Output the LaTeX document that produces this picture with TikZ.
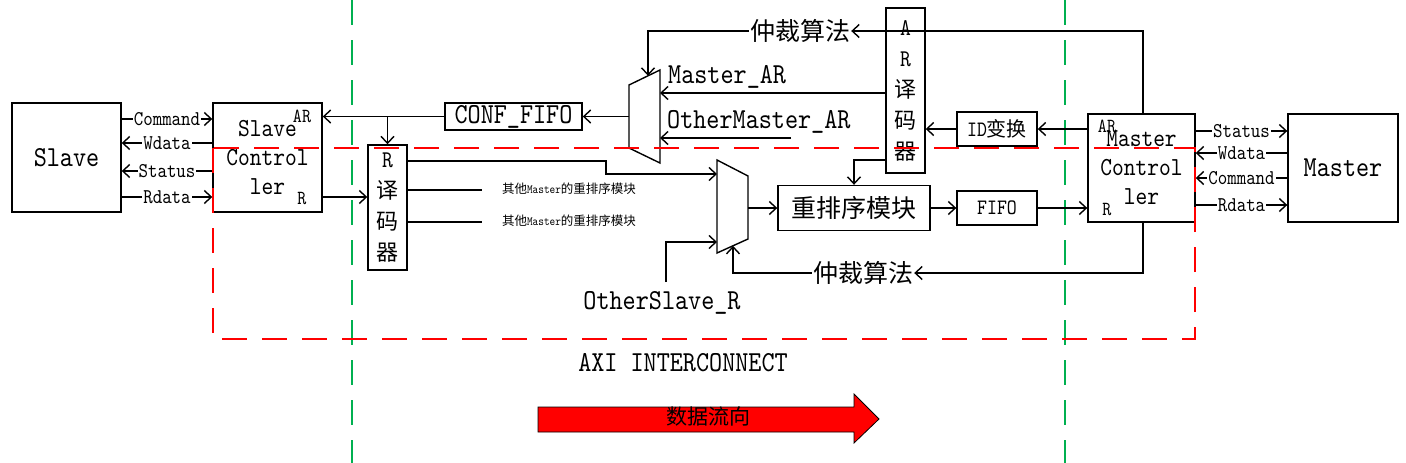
\documentclass[tikz,border=0pt]{standalone}
\usepackage{fontspec}
\newfontfamily\cjk{Noto Sans CJK SC}
\newfontfamily\mn{lmmono10-regular.otf}[FakeStretch=0.86]
\usetikzlibrary{arrows.meta}
\newcommand\fs[2]{\fontsize{#1}{#2}\selectfont}
\definecolor{gline}{RGB}{0,176,80}
\begin{document}
\begin{tikzpicture}[x=1pt,y=-1pt,
  ln/.style={line width=1.4pt},
  ar/.style={ln,-{Straight Barb[length=7pt,width=13pt,line width=1.4pt]}},
  box/.style={draw,line width=1.4pt,fill=white,inner sep=0pt,align=center},
  lbl/.style={fill=white,inner sep=1pt,font=\fs{21}{24}\mn},
  txt/.style={inner sep=0pt,align=center},
  reddash/.style={draw=red,line width=1.5pt,dash pattern=on 25pt off 15pt},
  greendash/.style={draw=gline,line width=1.5pt,dash pattern=on 25pt off 15pt}
]
\useasboundingbox (0,0) rectangle (1406,463);
% green boundaries
\coordinate (g1t) at (352,0); \coordinate (g1b) at (352,463);
\coordinate (g2t) at (1065,0); \coordinate (g2b) at (1065,463);
\draw[greendash] (g1t) -- (g1b);
\draw[greendash] (g2t) -- (g2b);

% levels
\coordinate (yC) at (0,119);
\coordinate (yW) at (0,143);
\coordinate (yS) at (0,171);
\coordinate (yRd) at (0,197);
\coordinate (zS) at (0,131);
\coordinate (zW) at (0,153);
\coordinate (zC) at (0,178);
\coordinate (zR) at (0,205);
\coordinate (xMC) at (1143,0);

% boxes
\node[box,minimum width=109pt,minimum height=109pt,font=\fs{29}{32}\mn] (slave) at (66.5,157.5) {Slave};
\node[box,minimum width=109pt,minimum height=109pt,font=\fs{26}{29}\mn] (slavec) at (267.5,157.5) {Slave\\Control\\ler};
\node[txt,font=\fs{20}{22}\mn] (slavecAR) at (302,116) {AR};
\node[txt,font=\fs{20}{22}\mn] (slavecR) at (302,198) {R};

\node[box,minimum width=137pt,minimum height=27pt,font=\fs{29}{32}\mn] (conf) at (513.5,116.5) {CONF\_FIFO};
\node[box,minimum width=39pt,minimum height=125pt,font=\fs{22}{31}] (rdec) at (387.5,207.5) {{\fs{24}{31}\mn R}\\{\cjk 译}\\{\cjk 码}\\{\cjk 器}};
\node[box,minimum width=39pt,minimum height=165pt,font=\fs{22}{31}] (ardec) at (905.5,90.5) {{\fs{24}{31}\mn A}\\{\fs{24}{31}\mn R}\\{\cjk 译}\\{\cjk 码}\\{\cjk 器}};
\node[box,minimum width=80pt,minimum height=34pt,font=\fs{20}{22}] (idc) at (997,129) {{\fs{22}{24}\mn ID}{\cjk 变换}};
\node[box,minimum width=152pt,minimum height=45pt,font=\fs{25}{28}\cjk] (reorder) at (854,208) {重排序模块};
\node[box,minimum width=80pt,minimum height=34pt,font=\fs{22}{24}\mn] (fifo) at (997,208) {FIFO};
\node[box,minimum width=107pt,minimum height=108pt,font=\fs{26}{29}\mn] (mc) at (1141.5,168) {Master\\Control\\ler};
\node[txt,font=\fs{20}{22}\mn] (mcAR) at (1107,126) {AR};
\node[txt,font=\fs{20}{22}\mn] (mcR) at (1107,209) {R};
\node[box,minimum width=110pt,minimum height=108pt,font=\fs{29}{32}\mn] (master) at (1343,168) {Master};

% muxes
\draw[ln,fill=white] (629,85) -- (660,70) -- (660,163) -- (629,148) -- cycle;
\coordinate (m1out) at (629,116.5);
\coordinate (m1sel) at (648,75.8);
\coordinate (m1a) at (660,93);
\coordinate (m1b) at (660,138);
\draw[ln,fill=white] (717,160) -- (748,176) -- (748,239) -- (717,253) -- cycle;
\coordinate (m2a) at (717,174);
\coordinate (m2b) at (717,242);
\coordinate (m2sel) at (733,245.8);
\coordinate (m2out) at (748,208);

% texts
\node[inner sep=1pt,font=\fs{25}{28}\cjk] (arb1) at (800,31) {仲裁算法};
\node[inner sep=1pt,font=\fs{25}{28}\cjk] (arb2) at (863,273) {仲裁算法};
\node[inner sep=0pt,anchor=west,font=\fs{29}{32}\mn] (mar) at (668,77) {Master\_AR};
\node[inner sep=0pt,anchor=west,font=\fs{29}{32}\mn] (omar) at (667,122) {OtherMaster\_AR};
\node[inner sep=0pt,font=\fs{29}{32}\mn] (osr) at (662,303) {OtherSlave\_R};
\node[inner sep=0pt,font=\fs{29}{32}\mn] (axi) at (683,363) {AXI INTERCONNECT};
\node[inner sep=0pt,font=\fs{12.5}{14}] (oth1) at (569,189) {{\cjk 其他}{\mn Master}{\cjk 的重排序模块}};
\node[inner sep=0pt,font=\fs{12.5}{14}] (oth2) at (569,221) {{\cjk 其他}{\mn Master}{\cjk 的重排序模块}};

% free ends
\coordinate (omEnd) at (791,138);
\coordinate (os1) at (666,282);
\coordinate (o1) at (482,190);
\coordinate (o2) at (482,222);
\coordinate (s1) at (606,161);
\coordinate (y160) at (0,160);

% left signals
\draw[ar] (slave.east |- yC) -- (slavec.west |- yC) node[midway,lbl] {Command};
\draw[ar] (slavec.west |- yW) -- (slave.east |- yW) node[midway,lbl] {Wdata};
\draw[ar] (slavec.west |- yS) -- (slave.east |- yS) node[midway,lbl] {Status};
\draw[ar] (slave.east |- yRd) -- (slavec.west |- yRd) node[midway,lbl] {Rdata};

% right signals
\draw[ar] (mc.east |- zS) -- (master.west |- zS) node[midway,lbl] {Status};
\draw[ar] (master.west |- zW) -- (mc.east |- zW) node[midway,lbl] {Wdata};
\draw[ar] (master.west |- zC) -- (mc.east |- zC) node[midway,lbl] {Command};
\draw[ar] (mc.east |- zR) -- (master.west |- zR) node[midway,lbl] {Rdata};

% AR path
\draw[ar] (conf.west) -- (conf.west -| slavec.east);
\coordinate (j1) at (conf.west -| rdec.north);
\draw[ar] (j1) -- (rdec.north);
\draw[ar] (m1out) -- (conf.east);
\draw[ar] (arb1.west) -| (m1sel);
\draw[ar] (ardec.west |- m1a) -- (m1a);
\draw[ar] (omEnd) -- (m1b);
\draw[ar] (mc.north -| xMC) |- (arb1.east);
\draw[ar] (mc.west |- idc.east) -- (idc.east);
\draw[ar] (idc.west) -- (idc.west -| ardec.east);
\draw[ar] (ardec.west |- y160) -| (reorder.north);

% R path
\draw[ar] (slavec.east |- yRd) -- (rdec.west |- yRd);
\draw[ar] (rdec.east |- s1) -- (s1) |- (m2a);
\draw[ln] (rdec.east |- o1) -- (o1);
\draw[ln] (rdec.east |- o2) -- (o2);
\draw[ar] (os1) |- (m2b);
\draw[ar] (arb2.west) -| (m2sel);
\draw[ar] (mc.south -| xMC) |- (arb2.east);
\draw[ar] (m2out) -- (reorder.west);
\draw[ar] (reorder.east) -- (fifo.west);
\draw[ar] (fifo.east) -- (fifo.east -| mc.west);

% data flow arrow
\draw[line width=0.8pt,fill=red] (538,407) -- (854,407) -- (854,394) -- (879,419) -- (854,443) -- (854,432) -- (538,432) -- cycle;
\node[inner sep=0pt,font=\fs{21}{24}\cjk] (flow) at (708,417) {数据流向};

% red interconnect boundary
\coordinate (rb1) at (213,148);
\coordinate (rb2) at (1195,339);
\draw[reddash] (rb1) rectangle (rb2);
\end{tikzpicture}
\end{document}
